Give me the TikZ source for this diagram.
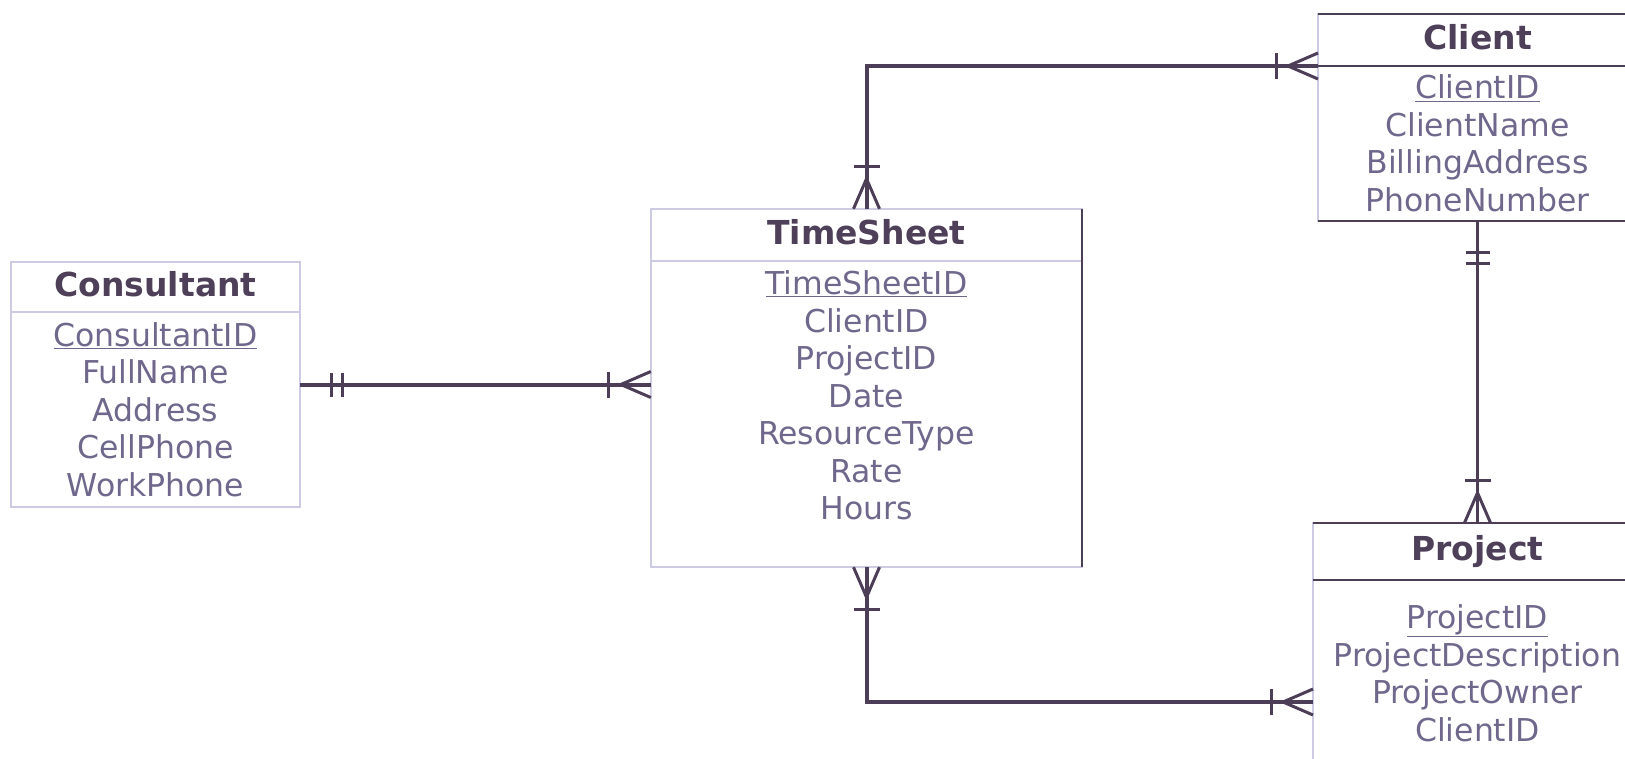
\documentclass[tikz,border=0pt]{standalone}
\usepackage{fontspec}
\setmainfont{DejaVu Sans}
\usepackage{tikz}
\usetikzlibrary{positioning, fit}

\definecolor{relcol}{RGB}{77,62,88}
\definecolor{titlecol}{RGB}{78,64,88}
\definecolor{attrcol}{RGB}{112,104,140}
\definecolor{framecol}{RGB}{205,203,228}

\tikzset{
  enthead/.style={draw=framecol, line width=1.2pt, outer sep=0pt, inner sep=0pt, anchor=north west,
    text=titlecol, font=\bfseries\fontsize{33}{40}\selectfont, text height=24pt, text depth=6pt},
  entbody/.style={draw=framecol, line width=1.2pt, outer sep=0pt, inner sep=0pt, align=center,
    text=attrcol, font=\fontsize{31.5}{37.5}\selectfont},
  rel/.style={draw=relcol, line width=4pt},
  crowline/.style={draw=relcol, line width=3pt},
  darkedge/.style={draw=relcol, line width=2pt},
  many/.pic={
    \draw[crowline] (0,-13) -- (-30,0) -- (0,13);
    \draw[crowline] (-42,-13) -- (-42,13);
  },
  onlyone/.pic={
    \draw[crowline] (-31,-12) -- (-31,12);
    \draw[crowline] (-42,-12) -- (-42,12);
  }
}

\begin{document}
\begin{tikzpicture}[x=1pt, y=-1pt]
  \useasboundingbox (0,0) rectangle (1625,758);
  \clip (0,0) rectangle (1625,758);

  % entities
  \node[enthead, minimum width=289pt, minimum height=50pt] (conshead) at (11,262) {Consultant};
  \node[entbody, below=0pt of conshead, text width=289pt, minimum height=195pt] (consbody)
    {\underline{ConsultantID}\\FullName\\Address\\CellPhone\\WorkPhone};
  \node[fit=(conshead)(consbody), inner sep=0pt] (cons) {};

  \node[enthead, minimum width=431pt, minimum height=52pt] (tshead) at (651,209) {TimeSheet};
  \node[entbody, below=0pt of tshead, text width=431pt, minimum height=306pt] (tsbody)
    {\underline{TimeSheetID}\\ClientID\\ProjectID\\Date\\ResourceType\\Rate\\Hours\\\mbox{}};
  \node[fit=(tshead)(tsbody), inner sep=0pt] (ts) {};

  \node[enthead, minimum width=319pt, minimum height=52pt] (clienthead) at (1318,14) {Client};
  \node[entbody, below=0pt of clienthead, text width=319pt, minimum height=155pt] (clientbody)
    {\underline{ClientID}\\ClientName\\BillingAddress\\PhoneNumber};
  \node[fit=(clienthead)(clientbody), inner sep=0pt] (client) {};

  \node[enthead, minimum width=329pt, minimum height=57pt] (projhead) at (1313,523) {Project};
  \node[entbody, below=0pt of projhead, text width=329pt, minimum height=186pt] (projbody)
    {\underline{ProjectID}\\ProjectDescription\\ProjectOwner\\ClientID};
  \node[fit=(projhead)(projbody), inner sep=0pt] (project) {};

  \draw[darkedge] (clienthead.north west) -- (clienthead.north east);
  \draw[darkedge] (clienthead.south west) -- (clienthead.south east);
  \draw[darkedge] (clientbody.south west) -- (clientbody.south east);
  \draw[darkedge] (projhead.north west) -- (projhead.north east);
  \draw[darkedge] (projhead.south west) -- (projhead.south east);
  \draw[darkedge] (tshead.north east) -- (tsbody.south east);

  \coordinate (pjlink) at (projbody.west |- 0,702);

  % relationships
  \draw[rel] (cons.east) -- (cons.east -| ts.west);
  \draw[rel] (ts.north) |- (clienthead.south west);
  \draw[rel] (ts.south) |- (pjlink);
  \draw[rel, line width=3pt] (client.south) -- (project.north);

  \pic[rotate=180] at (cons.east) {onlyone};
  \pic at (cons.east -| ts.west) {many};
  \pic[rotate=-90] at (ts.north) {many};
  \pic at (clienthead.south west) {many};
  \pic[rotate=90] at (ts.south) {many};
  \pic at (pjlink) {many};
  \pic[rotate=90] at (client.south) {onlyone};
  \pic[rotate=-90] at (project.north) {many};
\end{tikzpicture}
\end{document}
